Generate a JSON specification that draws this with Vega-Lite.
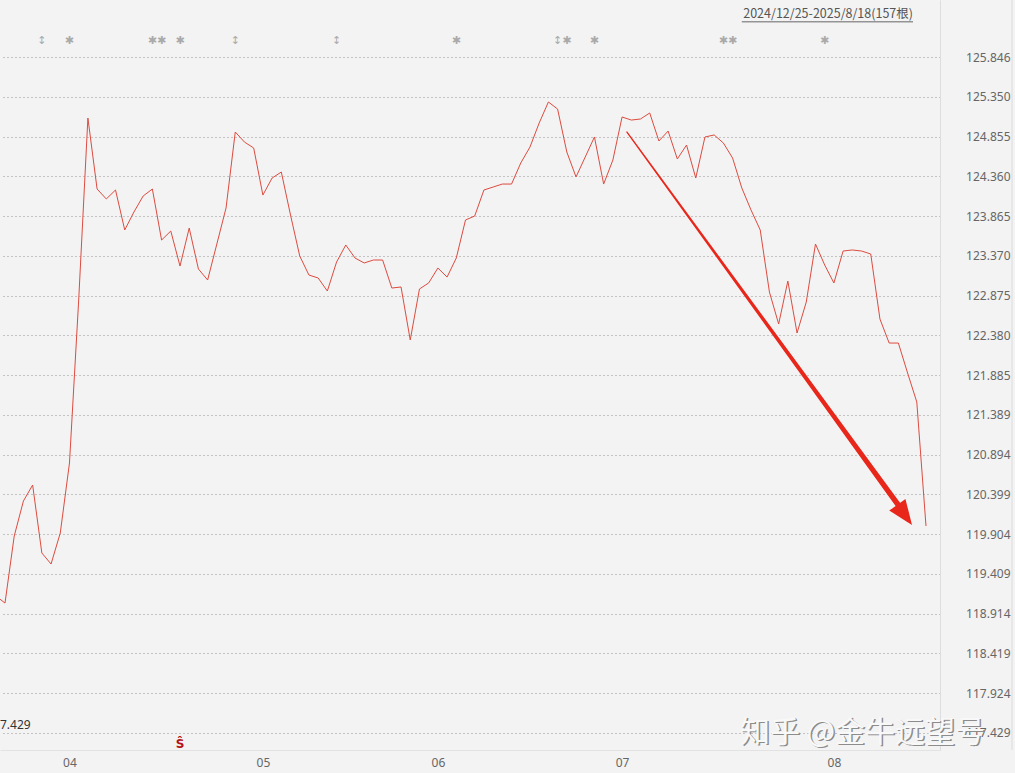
{
  "$schema": "https://vega.github.io/schema/vega-lite/v6.json",
  "width": 940,
  "height": 750,
  "autosize": "none",
  "padding": {"left": 0, "top": 0, "right": 75, "bottom": 23},
  "background": "#f3f3f3",
  "config": {"view": {"stroke": null}, "font": "Noto Sans"},
  "datasets": {
    "price": [
      {"i": 0, "v": 119.134}, {"i": 1, "v": 119.046}, {"i": 2, "v": 119.881}, {"i": 3, "v": 120.317},
      {"i": 4, "v": 120.516}, {"i": 5, "v": 119.669}, {"i": 6, "v": 119.532}, {"i": 7, "v": 119.918},
      {"i": 8, "v": 120.790}, {"i": 9, "v": 122.820}, {"i": 10, "v": 125.086}, {"i": 11, "v": 124.202},
      {"i": 12, "v": 124.078}, {"i": 13, "v": 124.190}, {"i": 14, "v": 123.692}, {"i": 15, "v": 123.916},
      {"i": 16, "v": 124.115}, {"i": 17, "v": 124.202}, {"i": 18, "v": 123.567}, {"i": 19, "v": 123.679},
      {"i": 20, "v": 123.243}, {"i": 21, "v": 123.716}, {"i": 22, "v": 123.206}, {"i": 23, "v": 123.069},
      {"i": 24, "v": 123.517}, {"i": 25, "v": 123.966}, {"i": 26, "v": 124.912}, {"i": 27, "v": 124.787},
      {"i": 28, "v": 124.713}, {"i": 29, "v": 124.127}, {"i": 30, "v": 124.339}, {"i": 31, "v": 124.414},
      {"i": 32, "v": 123.878}, {"i": 33, "v": 123.368}, {"i": 34, "v": 123.131}, {"i": 35, "v": 123.094},
      {"i": 36, "v": 122.932}, {"i": 37, "v": 123.293}, {"i": 38, "v": 123.505}, {"i": 39, "v": 123.343},
      {"i": 40, "v": 123.281}, {"i": 41, "v": 123.318}, {"i": 42, "v": 123.318}, {"i": 43, "v": 122.969},
      {"i": 44, "v": 122.982}, {"i": 45, "v": 122.322}, {"i": 46, "v": 122.957}, {"i": 47, "v": 123.032},
      {"i": 48, "v": 123.218}, {"i": 49, "v": 123.106}, {"i": 50, "v": 123.343}, {"i": 51, "v": 123.816},
      {"i": 52, "v": 123.866}, {"i": 53, "v": 124.190}, {"i": 54, "v": 124.227}, {"i": 55, "v": 124.264},
      {"i": 56, "v": 124.264}, {"i": 57, "v": 124.526}, {"i": 58, "v": 124.725}, {"i": 59, "v": 125.024},
      {"i": 60, "v": 125.286}, {"i": 61, "v": 125.198}, {"i": 62, "v": 124.663}, {"i": 63, "v": 124.352},
      {"i": 64, "v": 124.601}, {"i": 65, "v": 124.850}, {"i": 66, "v": 124.264}, {"i": 67, "v": 124.563},
      {"i": 68, "v": 125.099}, {"i": 69, "v": 125.061}, {"i": 70, "v": 125.074}, {"i": 71, "v": 125.149},
      {"i": 72, "v": 124.800}, {"i": 73, "v": 124.924}, {"i": 74, "v": 124.576}, {"i": 75, "v": 124.750},
      {"i": 76, "v": 124.339}, {"i": 77, "v": 124.850}, {"i": 78, "v": 124.875}, {"i": 79, "v": 124.775},
      {"i": 80, "v": 124.588}, {"i": 81, "v": 124.215}, {"i": 82, "v": 123.941}, {"i": 83, "v": 123.692},
      {"i": 84, "v": 122.919}, {"i": 85, "v": 122.521}, {"i": 86, "v": 123.056}, {"i": 87, "v": 122.409},
      {"i": 88, "v": 122.795}, {"i": 89, "v": 123.517}, {"i": 90, "v": 123.256}, {"i": 91, "v": 123.032},
      {"i": 92, "v": 123.430}, {"i": 93, "v": 123.443}, {"i": 94, "v": 123.430}, {"i": 95, "v": 123.393},
      {"i": 96, "v": 122.583}, {"i": 97, "v": 122.284}, {"i": 98, "v": 122.284}, {"i": 99, "v": 121.911},
      {"i": 100, "v": 121.550}, {"i": 101, "v": 120.005}
    ],
    "events": [
      {"i": 5, "sym": "↕"}, {"i": 8, "sym": "✱"}, {"i": 17, "sym": "✱"}, {"i": 18, "sym": "✱"},
      {"i": 20, "sym": "✱"}, {"i": 26, "sym": "↕"}, {"i": 37, "sym": "↕"}, {"i": 50, "sym": "✱"},
      {"i": 61, "sym": "↕"}, {"i": 62, "sym": "✱"}, {"i": 65, "sym": "✱"}, {"i": 79, "sym": "✱"},
      {"i": 80, "sym": "✱"}, {"i": 90, "sym": "✱"}
    ],
    "arrow": [
      {"i": 68.53, "v": 124.912, "part": "start"},
      {"i": 97.96, "v": 120.273, "part": "end"}
    ],
    "arrowhead": [
      {"i": 99.48, "v": 120.018}
    ],
    "watermark": [
      {"t": "知乎 @金牛远望号"}
    ]
  },
  "layer": [
    {
      "data": {"name": "price"},
      "mark": {"type": "line", "color": "#dd4b3f", "strokeWidth": 1, "clip": true},
      "encoding": {
        "x": {
          "field": "i", "type": "quantitative",
          "scale": {"domain": [0.456, 102.52], "nice": false, "zero": false},
          "axis": {
            "title": null, "values": [8, 29, 48, 68, 91],
            "labelExpr": "datum.value == 8 ? '04' : datum.value == 29 ? '05' : datum.value == 48 ? '06' : datum.value == 68 ? '07' : '08'",
            "ticks": false, "grid": false, "domain": true, "domainColor": "#e2e2e2",
            "labelPadding": 7, "labelFontSize": 12, "labelColor": "#666666", "labelFont": "Noto Sans"
          }
        },
        "y": {
          "field": "v", "type": "quantitative",
          "scale": {"domain": [117.216, 126.556], "nice": false, "zero": false},
          "axis": {
            "title": null, "orient": "right",
            "values": [117.429, 117.924, 118.419, 118.914, 119.409, 119.904, 120.399, 120.894, 121.389, 121.885, 122.380, 122.875, 123.370, 123.865, 124.360, 124.855, 125.350, 125.846],
            "format": ".3f", "ticks": false, "grid": true, "gridDash": [1, 3], "gridColor": "#939393", "gridWidth": 1,
            "domain": true, "domainColor": "#dddddd",
            "labelAlign": "right", "labelPadding": 70, "labelFontSize": 12, "labelColor": "#666666", "labelFont": "Noto Sans"
          }
        }
      }
    },
    {
      "data": {"name": "arrow"},
      "mark": {"type": "trail", "color": "#e8261a", "clip": false},
      "encoding": {
        "x": {"field": "i", "type": "quantitative"},
        "y": {"field": "v", "type": "quantitative"},
        "order": {"field": "i", "type": "quantitative"},
        "size": {"field": "part", "type": "ordinal", "scale": {"domain": ["start", "end"], "range": [1.3, 5.5]}, "legend": null}
      }
    },
    {
      "data": {"name": "arrowhead"},
      "mark": {"type": "point", "shape": "M0,0L-0.8,2L0.8,2Z", "filled": true, "color": "#e8261a", "opacity": 1, "size": 625, "angle": 144.1, "clip": false},
      "encoding": {
        "x": {"field": "i", "type": "quantitative"},
        "y": {"field": "v", "type": "quantitative"}
      }
    },
    {
      "data": {"name": "events"},
      "mark": {"type": "text", "color": "#aaaaaa", "fontSize": 11, "font": "DejaVu Sans", "baseline": "middle", "align": "center"},
      "encoding": {
        "x": {"field": "i", "type": "quantitative"},
        "y": {"datum": 126.045},
        "text": {"field": "sym"}
      }
    },
    {
      "data": {"values": [{"i": 20, "t": "Ŝ"}]},
      "mark": {"type": "text", "color": "#b5121b", "fontSize": 12, "fontWeight": "bold", "baseline": "middle", "align": "center", "font": "DejaVu Sans"},
      "encoding": {
        "x": {"field": "i", "type": "quantitative"},
        "y": {"datum": 117.29},
        "text": {"field": "t"}
      }
    },
    {
      "data": {"values": [{"t": "7.429"}]},
      "mark": {"type": "text", "color": "#333333", "fontSize": 12, "baseline": "middle", "align": "left", "font": "Noto Sans"},
      "encoding": {
        "x": {"datum": 0.456},
        "y": {"datum": 117.527},
        "text": {"field": "t"}
      }
    },
    {
      "data": {"values": [{"t": "2024/12/25-2025/8/18(157根)"}]},
      "mark": {"type": "text", "color": "#555555", "fontSize": 12.5, "baseline": "middle", "align": "right", "font": "Noto Sans CJK SC", "clip": false},
      "encoding": {
        "x": {"datum": 99.59},
        "y": {"datum": 126.381},
        "text": {"field": "t"}
      }
    },
    {
      "data": {"values": [{"a": 1}]},
      "mark": {"type": "rule", "color": "#666666", "strokeWidth": 1, "clip": false},
      "encoding": {
        "x": {"datum": 81.0},
        "x2": {"datum": 99.59},
        "y": {"datum": 126.284}
      }
    },
    {
      "data": {"values": [{"a": 1}]},
      "mark": {"type": "rule", "color": "#dcdcdc", "strokeWidth": 1, "clip": false},
      "encoding": {
        "x": {"datum": 110.34},
        "y": {"datum": 126.556},
        "y2": {"datum": 117.216}
      }
    },
    {
      "data": {"name": "watermark"},
      "mark": {"type": "text", "color": "#8c8c8c", "fontSize": 30, "dx": 1.5, "dy": 1.5, "baseline": "middle", "align": "center", "font": "Noto Sans CJK SC", "clip": false},
      "encoding": {
        "x": {"datum": 94.1},
        "y": {"datum": 117.429},
        "text": {"field": "t"}
      }
    },
    {
      "data": {"name": "watermark"},
      "mark": {"type": "text", "color": "#f8f8f8", "fontSize": 30, "baseline": "middle", "align": "center", "font": "Noto Sans CJK SC", "clip": false},
      "encoding": {
        "x": {"datum": 94.1},
        "y": {"datum": 117.429},
        "text": {"field": "t"}
      }
    }
  ]
}
